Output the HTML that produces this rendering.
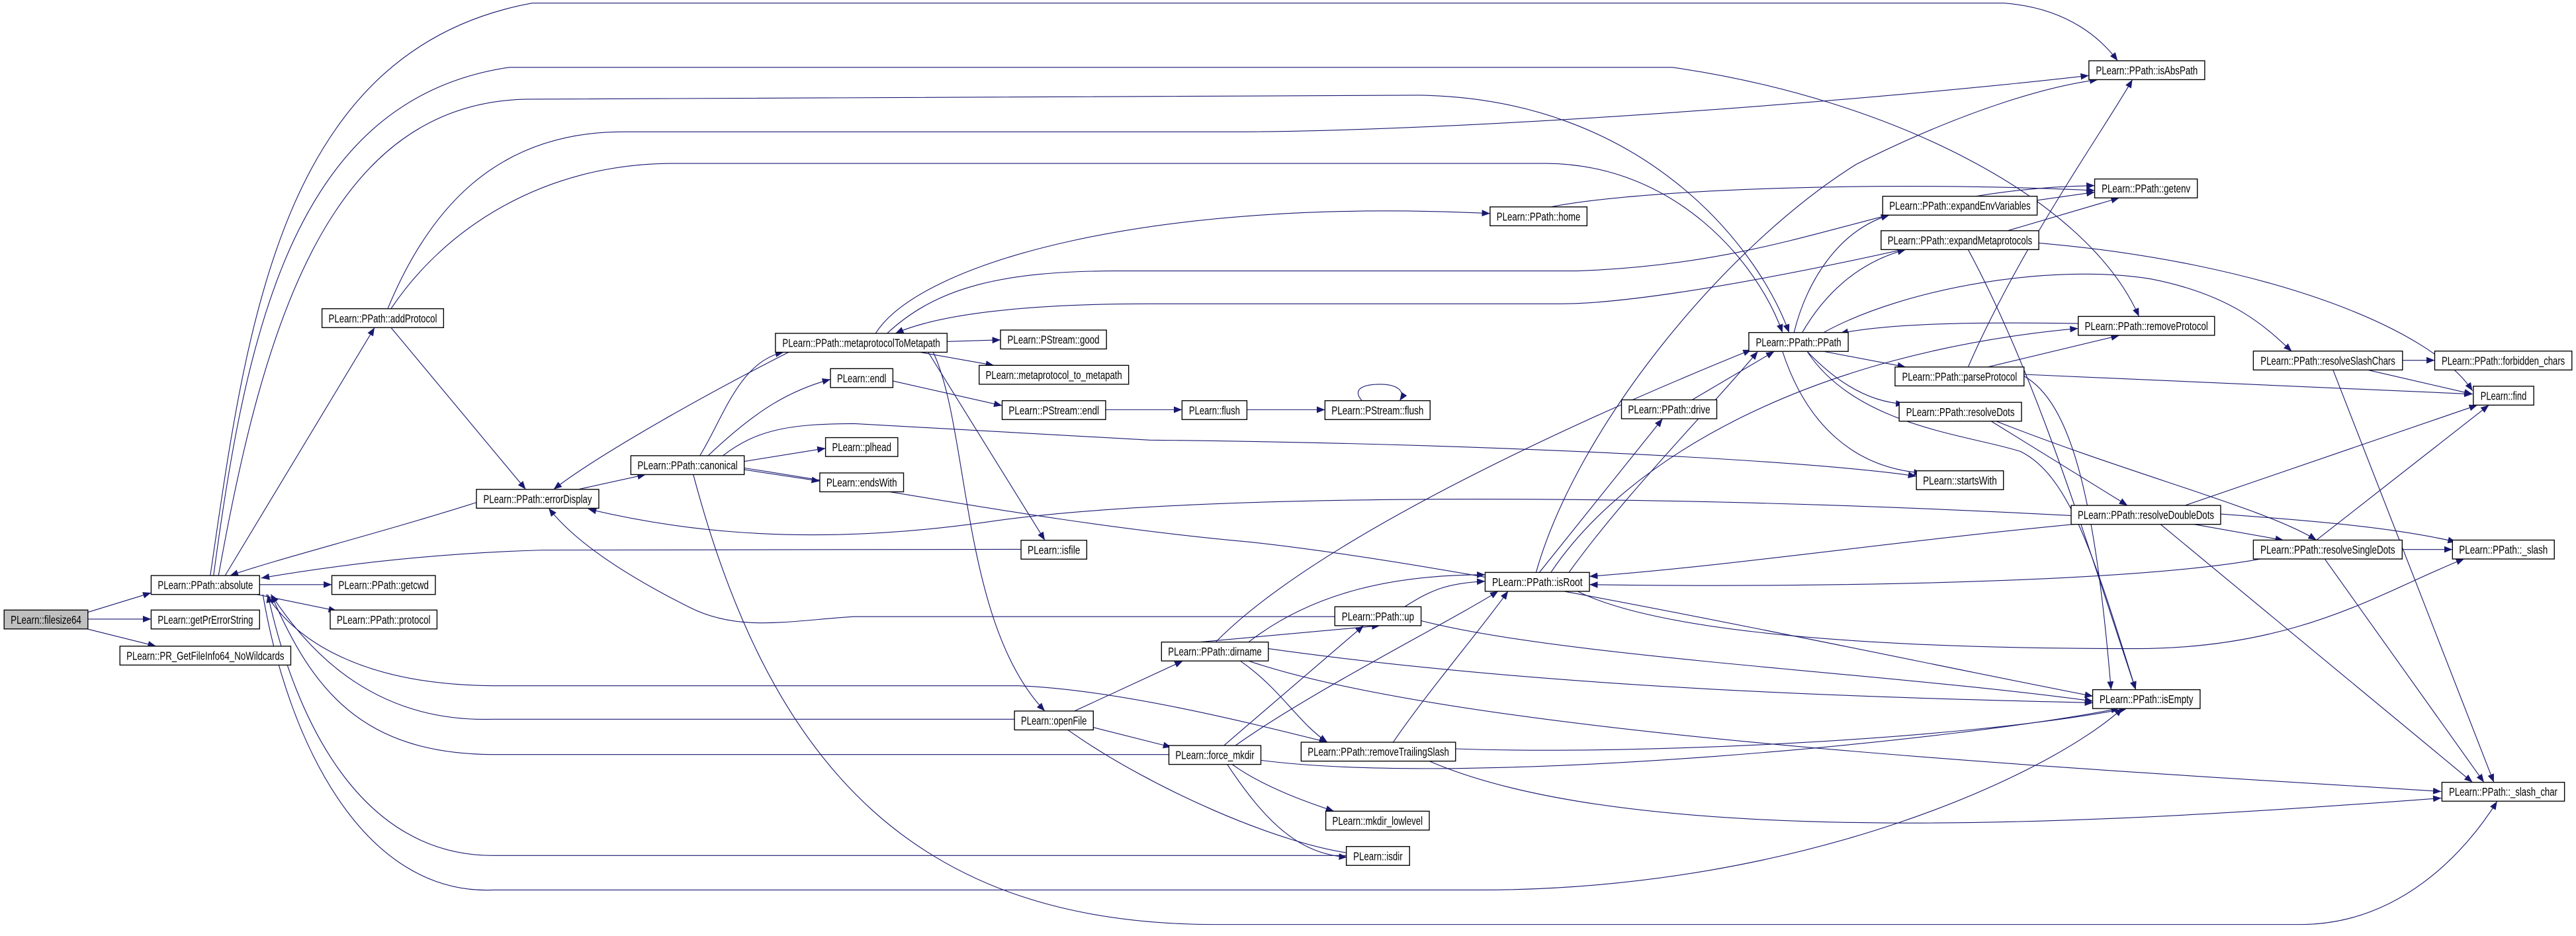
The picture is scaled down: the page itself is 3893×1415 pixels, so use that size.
<!DOCTYPE html>
<html><head><meta charset="utf-8"><style>
html,body{margin:0;padding:0;background:#fff;}
svg{display:block;}
text{font-family:"Liberation Sans",sans-serif;font-size:7.2px;fill:#000;text-anchor:middle;}
.n{fill:#fff;stroke:#000;stroke-width:0.55;}
.e{fill:none;stroke:#191970;stroke-width:0.45;}
</style></head><body>
<svg width="3893" height="1415" viewBox="0 0 1568 570" preserveAspectRatio="none" xmlns="http://www.w3.org/2000/svg">
<defs><marker id="a" viewBox="0 0 10 10" refX="10" refY="5" markerWidth="5" markerHeight="5" orient="auto" markerUnits="userSpaceOnUse"><path d="M0,1 L10,5 L0,9 z" fill="#191970"/></marker></defs>
<g class="e" marker-end="url(#a)">
<path d="M53,373 L92,361"/>
<path d="M53.5,377 L92,377"/>
<path d="M53,383 L95,393.5"/>
<path d="M158,356 L202,356"/>
<path d="M154,361.5 L205,372"/>
<path d="M137,350.5 L228,199.5"/>
<path d="M238,199.5 L320,298"/>
<path d="M290,306 C230,325 170,340 140,350.5"/>
<path d="M352,298 L393,289"/>
<path d="M480,214.5 C420,245 360,280 337,298"/>
<path d="M426,277.5 C440,255 450,220 477,214.5"/>
<path d="M431,277.5 C460,250 480,238 505.5,231"/>
<path d="M453,281 L502.5,273"/>
<path d="M453,286 L499,293"/>
<path d="M440,277.5 C460,262 480,258 520,258 L700,268 C900,270 1100,280 1166.5,290"/>
<path d="M453,285 C550,300 650,320 760,330 C900,345 1150,400 1274,424"/>
<path d="M568,214.5 C590,260 585,380 636,433"/>
<path d="M565,214.5 L636,329"/>
<path d="M422,289 C470,470 560,563 740,563 L1400,563 C1460,563 1500,520 1520,488"/>
<path d="M621.5,334.5 L330,335 C260,337 200,345 159,352"/>
<path d="M812.5,375.5 L520,375.5 C480,378 450,385 420,370 C380,350 350,330 334,309.5"/>
<path d="M1260.7,314 C1000,300 720,300 600,318 C480,335 400,320 358,310"/>
<path d="M576.5,208 L609,207"/>
<path d="M560,214.5 L605,222.5"/>
<path d="M543.5,232 L610,247"/>
<path d="M673,249.5 L719.5,249.5"/>
<path d="M759,249.5 L806.5,249.5"/>
<path d="M829,244 C822,236 832,234 840,234 C850,234 856,238 852,244"/>
<path d="M533,203 C560,160 700,120 907,130"/>
<path d="M540,203 C570,175 610,165 680,165 L960,165 C1100,160 1150,115 1275,113"/>
<path d="M1158,152 C1100,165 1000,185 950,185 L700,185 C620,185 570,192 545,203"/>
<path d="M944,126 C1000,115 1150,110 1275,116"/>
<path d="M935,348.6 C960,260 1050,150 1130,100 C1200,65 1250,52 1277,48.5"/>
<path d="M1198,223.5 C1230,150 1280,80 1298,48.5"/>
<path d="M1092,202.5 C1100,170 1120,140 1150,131"/>
<path d="M1097,202.5 C1110,180 1130,160 1160,152"/>
<path d="M1240,122 L1275,117"/>
<path d="M1222,140.5 L1290,120.5"/>
<path d="M1241,148 C1380,160 1480,200 1505,238"/>
<path d="M1198,152 C1240,230 1270,330 1300,420"/>
<path d="M1265,197 C1200,196 1150,197 1120,203"/>
<path d="M1110,214 L1160,223.5"/>
<path d="M1100,214 C1120,235 1140,245 1159,246"/>
<path d="M1085,214 C1100,260 1130,285 1170,288"/>
<path d="M1110,202.5 C1160,175 1250,160 1310,170 C1360,180 1380,200 1395,214"/>
<path d="M1030,243.5 L1080,214"/>
<path d="M937,348.6 L1012,255"/>
<path d="M740,391 C800,330 950,260 1066,213"/>
<path d="M944,348.6 C990,280 1100,215 1265,200"/>
<path d="M1210,223.5 L1290,204.3"/>
<path d="M1232,228 L1505,240"/>
<path d="M1232,229 C1260,245 1275,300 1285,420"/>
<path d="M1212,256.5 L1295,307.8"/>
<path d="M1215,256.5 C1300,290 1380,310 1410,328.9"/>
<path d="M1330,307.8 L1508,246.7"/>
<path d="M1351.7,313 C1420,318 1460,322 1495,330"/>
<path d="M1335,319.2 L1390,329"/>
<path d="M1265,319 C1150,330 1050,345 967.5,351"/>
<path d="M1315,319.2 L1505,476.4"/>
<path d="M1410,328.9 L1515,246.7"/>
<path d="M1378,340 C1300,355 1100,358 967.5,356"/>
<path d="M1462.2,334.6 L1492.8,334.6"/>
<path d="M1415,340.3 L1512,476.4"/>
<path d="M1462.4,219.4 L1482,219.4"/>
<path d="M1440,225 L1505,240"/>
<path d="M1420,225 L1518,476.4"/>
<path d="M960,360 C1000,380 1100,395 1300,395 C1400,395 1450,360 1500,340.3"/>
<path d="M855,369.5 C870,360 880,355 904,354"/>
<path d="M865,378 C950,400 1150,410 1274,427"/>
<path d="M730,391 L840,381"/>
<path d="M760,391 C800,360 850,350 904,350"/>
<path d="M772,395 C950,420 1150,425 1274,428"/>
<path d="M755,402.5 C780,420 790,440 808,452"/>
<path d="M760,402.5 C900,450 1300,470 1486,482"/>
<path d="M654,433 L720,402.5"/>
<path d="M665.5,443 L713,455"/>
<path d="M650,444.5 C700,480 780,515 825,520"/>
<path d="M745,454 L830,381"/>
<path d="M752,454 C800,420 880,380 912,360"/>
<path d="M750,465.5 C770,480 800,490 812,494"/>
<path d="M747,465.5 C770,500 790,520 820,522"/>
<path d="M767.5,463 C900,480 1200,450 1290,431.3"/>
<path d="M848,452 C870,420 900,385 918,360"/>
<path d="M886,456 C1000,460 1200,450 1295,431.3"/>
<path d="M870,463.5 C1000,520 1300,500 1486,486"/>
<path d="M617.5,438 L300,438 C230,440 190,400 165,362"/>
<path d="M711.5,459.5 L300,459.5 C220,459 190,420 165,362"/>
<path d="M819.5,521 L300,521 C220,521 180,440 163,362"/>
<path d="M162,362 C180,390 220,417 300,417.6 L620,417.6 C680,420 760,440 808,452"/>
<path d="M160,362 C175,450 220,545 300,542 L900,542 C1100,542 1250,470 1292,431.3"/>
<path d="M128,350.5 C150,200 170,30 324,1.9 L1220,1.9 C1260,5 1280,25 1289,37"/>
<path d="M130,350.5 C150,200 180,60 310,41 L1018,41 C1150,60 1270,120 1302,192.7"/>
<path d="M133,350.5 C160,200 200,60 324,60.4 L864,58 C1000,60 1070,150 1089,202.5"/>
<path d="M236,188 C260,130 300,80 380,80.3 L750,80.3 C900,80 1150,60 1271.5,46"/>
<path d="M238,188 C270,140 330,99.5 410,99.5 L941,99.5 C1020,100 1070,160 1085,202.5"/>
<path d="M1100,214 C1130,260 1200,265 1230,275 C1260,290 1275,340 1300,420"/>
<path d="M955,348.6 C990,300 1040,250 1070,214"/>
</g>
<g>
<rect class="n" x="2.5" y="371.5" width="51" height="11.5" style="fill:#bfbfbf"/><text x="28" y="379.8" textLength="43" lengthAdjust="spacingAndGlyphs">PLearn::filesize64</text>
<rect class="n" x="92" y="350.5" width="66" height="11.5"/><text x="125" y="358.8" textLength="58" lengthAdjust="spacingAndGlyphs">PLearn::PPath::absolute</text>
<rect class="n" x="92" y="371.5" width="66" height="11.5"/><text x="125" y="379.8" textLength="58" lengthAdjust="spacingAndGlyphs">PLearn::getPrErrorString</text>
<rect class="n" x="73" y="393.5" width="104" height="11.5"/><text x="125" y="401.8" textLength="96" lengthAdjust="spacingAndGlyphs">PLearn::PR_GetFileInfo64_NoWildcards</text>
<rect class="n" x="202" y="350.5" width="63" height="11.5"/><text x="233.5" y="358.8" textLength="55" lengthAdjust="spacingAndGlyphs">PLearn::PPath::getcwd</text>
<rect class="n" x="201" y="371.5" width="65" height="11.5"/><text x="233.5" y="379.8" textLength="57" lengthAdjust="spacingAndGlyphs">PLearn::PPath::protocol</text>
<rect class="n" x="196" y="188" width="74" height="11.5"/><text x="233" y="196.3" textLength="66" lengthAdjust="spacingAndGlyphs">PLearn::PPath::addProtocol</text>
<rect class="n" x="290" y="298" width="74.5" height="11.5"/><text x="327.25" y="306.3" textLength="66" lengthAdjust="spacingAndGlyphs">PLearn::PPath::errorDisplay</text>
<rect class="n" x="384" y="277.5" width="69" height="11.5"/><text x="418.5" y="285.8" textLength="61" lengthAdjust="spacingAndGlyphs">PLearn::PPath::canonical</text>
<rect class="n" x="472" y="203" width="104.5" height="11.5"/><text x="524.25" y="211.3" textLength="96" lengthAdjust="spacingAndGlyphs">PLearn::PPath::metaprotocolToMetapath</text>
<rect class="n" x="609" y="201" width="64.5" height="11.5"/><text x="641.25" y="209.3" textLength="56" lengthAdjust="spacingAndGlyphs">PLearn::PStream::good</text>
<rect class="n" x="596" y="222.5" width="91" height="11.5"/><text x="641.5" y="230.8" textLength="83" lengthAdjust="spacingAndGlyphs">PLearn::metaprotocol_to_metapath</text>
<rect class="n" x="505.5" y="224.5" width="38" height="11.5"/><text x="524.5" y="232.8" textLength="30" lengthAdjust="spacingAndGlyphs">PLearn::endl</text>
<rect class="n" x="610" y="244" width="63" height="11.5"/><text x="641.5" y="252.3" textLength="55" lengthAdjust="spacingAndGlyphs">PLearn::PStream::endl</text>
<rect class="n" x="719.5" y="244" width="39.5" height="11.5"/><text x="739.25" y="252.3" textLength="31" lengthAdjust="spacingAndGlyphs">PLearn::flush</text>
<rect class="n" x="806.5" y="244" width="64" height="11.5"/><text x="838.5" y="252.3" textLength="56" lengthAdjust="spacingAndGlyphs">PLearn::PStream::flush</text>
<rect class="n" x="502.5" y="266.5" width="44" height="11.5"/><text x="524.5" y="274.8" textLength="36" lengthAdjust="spacingAndGlyphs">PLearn::plhead</text>
<rect class="n" x="499" y="288" width="51" height="11.5"/><text x="524.5" y="296.3" textLength="43" lengthAdjust="spacingAndGlyphs">PLearn::endsWith</text>
<rect class="n" x="621.5" y="329" width="40" height="11.5"/><text x="641.5" y="337.3" textLength="32" lengthAdjust="spacingAndGlyphs">PLearn::isfile</text>
<rect class="n" x="617.5" y="433" width="48" height="11.5"/><text x="641.5" y="441.3" textLength="40" lengthAdjust="spacingAndGlyphs">PLearn::openFile</text>
<rect class="n" x="907" y="126" width="59" height="11.5"/><text x="936.5" y="134.3" textLength="51" lengthAdjust="spacingAndGlyphs">PLearn::PPath::home</text>
<rect class="n" x="812.5" y="369.5" width="52.5" height="11.5"/><text x="838.75" y="377.8" textLength="44" lengthAdjust="spacingAndGlyphs">PLearn::PPath::up</text>
<rect class="n" x="707" y="391" width="65" height="11.5"/><text x="739.5" y="399.3" textLength="57" lengthAdjust="spacingAndGlyphs">PLearn::PPath::dirname</text>
<rect class="n" x="711.5" y="454" width="56" height="11.5"/><text x="739.5" y="462.3" textLength="48" lengthAdjust="spacingAndGlyphs">PLearn::force_mkdir</text>
<rect class="n" x="792" y="452" width="94" height="11.5"/><text x="839" y="460.3" textLength="86" lengthAdjust="spacingAndGlyphs">PLearn::PPath::removeTrailingSlash</text>
<rect class="n" x="807" y="494" width="63" height="11.5"/><text x="838.5" y="502.3" textLength="55" lengthAdjust="spacingAndGlyphs">PLearn::mkdir_lowlevel</text>
<rect class="n" x="819.5" y="515.5" width="38.5" height="11.5"/><text x="838.75" y="523.8" textLength="30" lengthAdjust="spacingAndGlyphs">PLearn::isdir</text>
<rect class="n" x="1271.5" y="37" width="70.5" height="11.5"/><text x="1306.75" y="45.3" textLength="62" lengthAdjust="spacingAndGlyphs">PLearn::PPath::isAbsPath</text>
<rect class="n" x="1275" y="109" width="62.5" height="11.5"/><text x="1306.25" y="117.3" textLength="54" lengthAdjust="spacingAndGlyphs">PLearn::PPath::getenv</text>
<rect class="n" x="1146" y="119.5" width="94" height="11.5"/><text x="1193" y="127.8" textLength="86" lengthAdjust="spacingAndGlyphs">PLearn::PPath::expandEnvVariables</text>
<rect class="n" x="1145" y="140.5" width="96" height="11.5"/><text x="1193" y="148.8" textLength="88" lengthAdjust="spacingAndGlyphs">PLearn::PPath::expandMetaprotocols</text>
<rect class="n" x="1064.5" y="202.5" width="60.5" height="11.5"/><text x="1094.75" y="210.8" textLength="52" lengthAdjust="spacingAndGlyphs">PLearn::PPath::PPath</text>
<rect class="n" x="1265" y="192.7" width="83" height="11.5"/><text x="1306.5" y="201" textLength="75" lengthAdjust="spacingAndGlyphs">PLearn::PPath::removeProtocol</text>
<rect class="n" x="1153.5" y="223.5" width="78.5" height="11.5"/><text x="1192.75" y="231.8" textLength="70" lengthAdjust="spacingAndGlyphs">PLearn::PPath::parseProtocol</text>
<rect class="n" x="1156" y="245" width="74.5" height="11.5"/><text x="1193.25" y="253.3" textLength="66" lengthAdjust="spacingAndGlyphs">PLearn::PPath::resolveDots</text>
<rect class="n" x="1166.5" y="286.7" width="53" height="11.5"/><text x="1193" y="295" textLength="45" lengthAdjust="spacingAndGlyphs">PLearn::startsWith</text>
<rect class="n" x="987" y="243.5" width="58" height="11.5"/><text x="1016" y="251.8" textLength="50" lengthAdjust="spacingAndGlyphs">PLearn::PPath::drive</text>
<rect class="n" x="904" y="348.6" width="63.5" height="11.5"/><text x="935.75" y="356.9" textLength="55" lengthAdjust="spacingAndGlyphs">PLearn::PPath::isRoot</text>
<rect class="n" x="1260.7" y="307.8" width="91" height="11.5"/><text x="1306.2" y="316.1" textLength="83" lengthAdjust="spacingAndGlyphs">PLearn::PPath::resolveDoubleDots</text>
<rect class="n" x="1371.6" y="328.9" width="90.6" height="11.5"/><text x="1416.9" y="337.2" textLength="82" lengthAdjust="spacingAndGlyphs">PLearn::PPath::resolveSingleDots</text>
<rect class="n" x="1492.8" y="328.9" width="62" height="11.5"/><text x="1523.8" y="337.2" textLength="54" lengthAdjust="spacingAndGlyphs">PLearn::PPath::_slash</text>
<rect class="n" x="1371.6" y="213.8" width="90.8" height="11.5"/><text x="1417" y="222.1" textLength="82" lengthAdjust="spacingAndGlyphs">PLearn::PPath::resolveSlashChars</text>
<rect class="n" x="1482" y="213.8" width="83.5" height="11.5"/><text x="1523.75" y="222.1" textLength="75" lengthAdjust="spacingAndGlyphs">PLearn::PPath::forbidden_chars</text>
<rect class="n" x="1505.5" y="235.2" width="36.8" height="11.5"/><text x="1523.9" y="243.5" textLength="28" lengthAdjust="spacingAndGlyphs">PLearn::find</text>
<rect class="n" x="1273.8" y="420" width="65.4" height="11.5"/><text x="1306.5" y="428.3" textLength="57" lengthAdjust="spacingAndGlyphs">PLearn::PPath::isEmpty</text>
<rect class="n" x="1486.4" y="476.4" width="74.6" height="11.5"/><text x="1523.7" y="484.7" textLength="66" lengthAdjust="spacingAndGlyphs">PLearn::PPath::_slash_char</text>
</g>
</svg>
</body></html>
